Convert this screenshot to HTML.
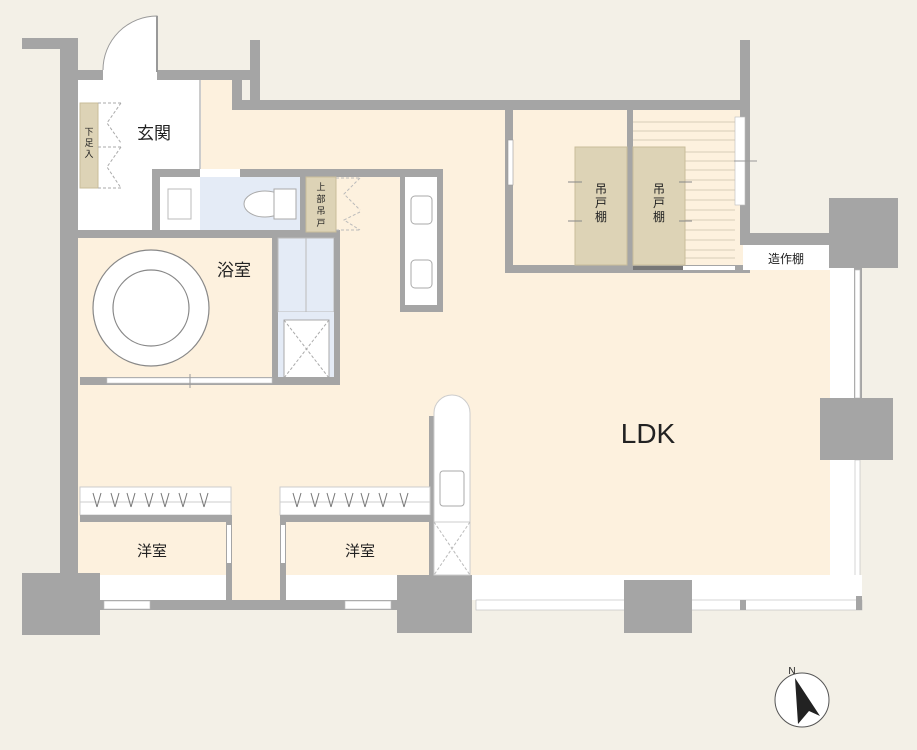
<!DOCTYPE html>
<html><head><meta charset="utf-8"><style>
html,body{margin:0;padding:0;background:#f3f0e7;}
svg{display:block;}
text{font-family:"Liberation Sans","Noto Sans CJK JP",sans-serif;fill:#222;}
</style></head><body>
<svg width="917" height="750" viewBox="0 0 917 750" xmlns="http://www.w3.org/2000/svg">
<rect width="917" height="750" fill="#f3f0e7"/>
<!-- floors -->
<rect x="78" y="80" width="154" height="495" fill="#fdf1de"/>
<rect x="232" y="110" width="598" height="465" fill="#fdf1de"/>
<rect x="230" y="570" width="52" height="32" fill="#fdf1de"/>
<rect x="750" y="108" width="82" height="126" fill="#f3f0e7"/>
<!-- entry white -->
<rect x="78" y="80" width="122" height="158" fill="#fff"/>
<line x1="200" y1="80" x2="200" y2="170" stroke="#ccc" stroke-width="2"/>
<!-- top walls -->
<rect x="22" y="38" width="48" height="11" fill="#a5a5a5"/>
<rect x="60" y="38" width="18" height="540" fill="#a5a5a5"/>
<rect x="60" y="70" width="43" height="10" fill="#a5a5a5"/>
<rect x="157" y="70" width="103" height="10" fill="#a5a5a5"/>
<rect x="250" y="40" width="10" height="70" fill="#a5a5a5"/>
<rect x="232" y="70" width="10" height="40" fill="#a5a5a5"/>
<rect x="232" y="100" width="518" height="10" fill="#a5a5a5"/>
<rect x="740" y="40" width="10" height="205" fill="#a5a5a5"/>
<rect x="740" y="233" width="90" height="12" fill="#a5a5a5"/>
<!-- entry door -->
<rect x="103" y="70" width="54" height="10" fill="#fff"/>
<path d="M103 70 A54 54 0 0 1 157 16 L157 70" fill="#fff" stroke="#999" stroke-width="1"/>
<line x1="157" y1="16" x2="157" y2="72" stroke="#999" stroke-width="2"/>
<!-- shoe box -->
<rect x="80" y="103" width="18" height="85" fill="#ddd3b6" stroke="#c9bd9a"/>
<g font-size="9" text-anchor="middle"><text x="89" y="135">下</text><text x="89" y="146">足</text><text x="89" y="157">入</text></g>
<path d="M98 103 H121 M98 147 H121 M98 188 H121 M121 103 L107 123 L121 143 M121 147 L107 167 L121 188" stroke="#aaa" stroke-dasharray="3,2" fill="none"/>
<text x="154" y="139" font-size="17" text-anchor="middle">玄関</text>
<!-- toilet block -->
<rect x="152" y="169" width="291" height="8" fill="#a5a5a5"/>
<rect x="152" y="169" width="8" height="68" fill="#a5a5a5"/>
<rect x="60" y="230" width="280" height="8" fill="#a5a5a5"/>
<rect x="160" y="177" width="40" height="53" fill="#fff"/>
<rect x="168" y="189" width="23" height="30" fill="none" stroke="#bbb"/>
<rect x="200" y="177" width="100" height="53" fill="#e4ebf6"/>
<rect x="300" y="177" width="6" height="60" fill="#a5a5a5"/>
<ellipse cx="265" cy="204" rx="21" ry="13" fill="#fff" stroke="#aaa"/>
<rect x="274" y="189" width="22" height="30" fill="#fff" stroke="#aaa"/>
<rect x="200" y="169" width="40" height="8" fill="#fff"/>
<rect x="306" y="177" width="30" height="55" fill="#ddd3b6" stroke="#c9bd9a"/>
<g font-size="9" text-anchor="middle"><text x="321" y="190">上</text><text x="321" y="202">部</text><text x="321" y="214">吊</text><text x="321" y="226">戸</text></g>
<path d="M336 178 H360 M336 230 H360 M360 178 L344 194 L360 210 M360 212 L344 220 L360 230" stroke="#bbb" stroke-dasharray="3,2" fill="none"/>
<!-- vanity -->
<rect x="400" y="169" width="43" height="143" fill="#a5a5a5"/>
<rect x="405" y="177" width="32" height="128" fill="#fff"/>
<rect x="411" y="196" width="21" height="28" rx="4" fill="none" stroke="#aaa"/>
<rect x="411" y="260" width="21" height="28" rx="4" fill="none" stroke="#aaa"/>
<!-- bath -->
<rect x="80" y="238" width="192" height="140" fill="#fdf1de"/>
<circle cx="151" cy="308" r="58" fill="#fff" stroke="#888" stroke-width="1.2"/>
<circle cx="151" cy="308" r="38" fill="#fff" stroke="#888" stroke-width="1.2"/>
<text x="234" y="276" font-size="17" text-anchor="middle">浴室</text>
<rect x="272" y="238" width="6" height="145" fill="#a5a5a5"/>
<rect x="278" y="238" width="56" height="74" fill="#e4ebf6" stroke="#bbb"/>
<line x1="306" y1="238" x2="306" y2="312" stroke="#bbb"/>
<rect x="278" y="312" width="56" height="70" fill="#e4ebf6"/>
<rect x="284" y="320" width="45" height="58" fill="#fff" stroke="#aaa"/>
<path d="M284 320 L329 378 M329 320 L284 378" stroke="#aaa" stroke-dasharray="3,2"/>
<rect x="334" y="238" width="6" height="145" fill="#a5a5a5"/>
<rect x="80" y="377" width="260" height="8" fill="#a5a5a5"/>
<rect x="107" y="378" width="165" height="5" fill="#fff" stroke="#ccc" stroke-width=".6"/>
<line x1="190" y1="374" x2="190" y2="388" stroke="#999"/>
<!-- closet room -->
<rect x="505" y="110" width="8" height="162" fill="#a5a5a5"/>
<rect x="508" y="140" width="5" height="45" fill="#fff" stroke="#999" stroke-width=".6"/>
<rect x="505" y="265" width="245" height="8" fill="#a5a5a5"/>
<rect x="633" y="110" width="102" height="155" fill="#fdf1de"/>
<g stroke="#d8cdb8" stroke-width="1">
<line x1="633" y1="122" x2="735" y2="122"/><line x1="633" y1="131" x2="735" y2="131"/><line x1="633" y1="140" x2="735" y2="140"/><line x1="633" y1="152" x2="735" y2="152"/><line x1="633" y1="161" x2="735" y2="161"/><line x1="633" y1="170" x2="735" y2="170"/><line x1="633" y1="180" x2="735" y2="180"/><line x1="633" y1="190" x2="735" y2="190"/><line x1="633" y1="200" x2="735" y2="200"/><line x1="633" y1="210" x2="735" y2="210"/><line x1="633" y1="220" x2="735" y2="220"/><line x1="633" y1="230" x2="735" y2="230"/><line x1="633" y1="240" x2="735" y2="240"/><line x1="633" y1="250" x2="735" y2="250"/><line x1="633" y1="258" x2="735" y2="258"/>
</g>
<rect x="627" y="110" width="6" height="160" fill="#a5a5a5"/>
<rect x="575" y="147" width="52" height="118" fill="#ddd3b6" stroke="#c9bd9a"/>
<rect x="633" y="147" width="52" height="118" fill="#ddd3b6" stroke="#c9bd9a"/>
<path d="M568 182 H582 M568 221 H582 M679 182 H692 M679 221 H692" stroke="#888"/>
<g font-size="12" text-anchor="middle"><text x="601" y="193">吊</text><text x="601" y="207">戸</text><text x="601" y="221">棚</text>
<text x="659" y="193">吊</text><text x="659" y="207">戸</text><text x="659" y="221">棚</text></g>
<rect x="735" y="117" width="10" height="88" fill="#fff" stroke="#bbb" stroke-width=".6"/>
<line x1="734" y1="161" x2="757" y2="161" stroke="#999"/>
<rect x="633" y="266" width="50" height="4" fill="#777"/>
<rect x="683" y="266" width="52" height="4" fill="#fff"/>
<rect x="743" y="245" width="87" height="25" fill="#fff"/>
<text x="786" y="263" font-size="12" text-anchor="middle">造作棚</text>
<!-- right side -->
<rect x="830" y="268" width="30" height="332" fill="#fff"/>
<rect x="854" y="268" width="8" height="135" fill="#a5a5a5"/>
<rect x="855" y="460" width="5" height="140" fill="#fff" stroke="#bbb" stroke-width=".6"/>
<rect x="855" y="270" width="5" height="128" fill="#fff" stroke="#bbb" stroke-width=".6"/>
<rect x="829" y="198" width="69" height="70" fill="#a5a5a5"/>
<rect x="820" y="398" width="73" height="62" fill="#a5a5a5"/>
<!-- bottom LDK -->
<rect x="472" y="575" width="390" height="25" fill="#fff"/>
<rect x="476" y="600" width="386" height="10" fill="#fff" stroke="#bbb" stroke-width=".6"/>
<rect x="740" y="600" width="6" height="10" fill="#a5a5a5"/>
<rect x="856" y="596" width="6" height="14" fill="#a5a5a5"/>
<rect x="624" y="580" width="68" height="53" fill="#a5a5a5"/>
<rect x="397" y="575" width="75" height="58" fill="#a5a5a5"/>
<!-- kitchen -->
<rect x="429" y="416" width="5" height="160" fill="#a5a5a5"/>
<path d="M434 575 V413 A18 18 0 0 1 470 413 V575 Z" fill="#fff" stroke="#ccc"/>
<rect x="440" y="471" width="24" height="35" rx="3" fill="none" stroke="#aaa"/>
<rect x="434" y="522" width="36" height="53" fill="#fff" stroke="#ccc"/>
<path d="M434 522 L470 575 M470 522 L434 575" stroke="#bbb" stroke-dasharray="3,2"/>
<text x="648" y="443" font-size="28" text-anchor="middle">LDK</text>
<!-- bedrooms -->
<rect x="80" y="487" width="151" height="28" fill="#fff" stroke="#ccc"/>
<rect x="280" y="487" width="150" height="28" fill="#fff" stroke="#ccc"/>
<line x1="80" y1="502" x2="231" y2="502" stroke="#ccc"/>
<line x1="280" y1="502" x2="430" y2="502" stroke="#ccc"/>
<path d="M93 493 l4 14 M101 493 l-4 14 M111 493 l4 14 M119 493 l-4 14 M127 493 l4 14 M135 493 l-4 14 M145 493 l4 14 M153 493 l-4 14 M161 493 l4 14 M169 493 l-4 14 M179 493 l4 14 M187 493 l-4 14 M200 493 l4 14 M208 493 l-4 14" stroke="#777" fill="none"/>
<path d="M293 493 l4 14 M301 493 l-4 14 M311 493 l4 14 M319 493 l-4 14 M327 493 l4 14 M335 493 l-4 14 M345 493 l4 14 M353 493 l-4 14 M361 493 l4 14 M369 493 l-4 14 M379 493 l4 14 M387 493 l-4 14 M400 493 l4 14 M408 493 l-4 14" stroke="#777" fill="none"/>
<rect x="80" y="515" width="152" height="7" fill="#a5a5a5"/>
<rect x="280" y="515" width="152" height="7" fill="#a5a5a5"/>
<rect x="226" y="515" width="6" height="95" fill="#a5a5a5"/>
<rect x="280" y="515" width="6" height="95" fill="#a5a5a5"/>
<rect x="227" y="525" width="4" height="38" fill="#fff"/>
<rect x="281" y="525" width="4" height="38" fill="#fff"/>
<text x="152" y="556" font-size="15" text-anchor="middle">洋室</text>
<text x="360" y="556" font-size="15" text-anchor="middle">洋室</text>
<rect x="100" y="575" width="126" height="25" fill="#fff"/>
<rect x="286" y="575" width="111" height="25" fill="#fff"/>
<rect x="78" y="600" width="320" height="10" fill="#a5a5a5"/>
<rect x="104" y="601" width="46" height="8" fill="#fff" stroke="#bbb" stroke-width=".6"/>
<rect x="345" y="601" width="46" height="8" fill="#fff" stroke="#bbb" stroke-width=".6"/>
<rect x="22" y="573" width="78" height="62" fill="#a5a5a5"/>
<!-- compass -->
<circle cx="802" cy="700" r="27" fill="#fff" stroke="#555"/>
<path d="M795 678 L820 716 L809 711 L798 724 Z" fill="#222"/>
<text x="792" y="674" font-size="10" text-anchor="middle">N</text>
</svg>
</body></html>
